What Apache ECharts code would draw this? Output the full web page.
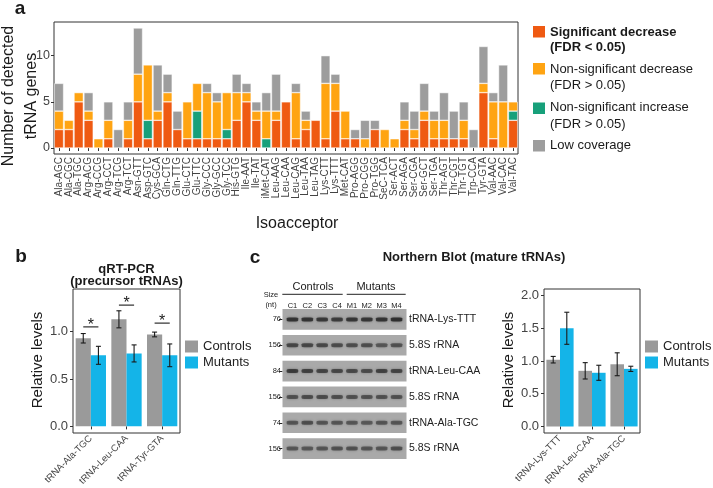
<!DOCTYPE html>
<html><head><meta charset="utf-8">
<script src="https://cdn.jsdelivr.net/npm/echarts@6/dist/echarts.min.js"></script>
<style>html,body{margin:0;padding:0;background:#fff}#c{width:713px;height:488px}</style>
</head><body><div id="c"></div><script>
// ---------- Panel a data ----------
const categoriesA = ['Ala-AGC','Ala-CGC','Ala-TGC','Arg-ACG','Arg-CCG','Arg-CCT','Arg-TCG','Arg-TCT','Asn-GTT','Asp-GTC',
 'Cys-GCA','Gln-CTG','Gln-TTG','Glu-CTC','Glu-TTC','Gly-CCC','Gly-GCC','Gly-TCC','His-GTG','Ile-AAT',
 'Ile-TAT','iMet-CAT','Leu-AAG','Leu-CAA','Leu-CAG','Leu-TAA','Leu-TAG','Lys-CTT','Lys-TTT','Met-CAT',
 'Pro-AGG','Pro-CGG','Pro-TGG','SeC-TCA','Ser-ACT','Ser-AGA','Ser-CGA','Ser-GCT','Ser-TGA','Thr-AGT',
 'Thr-CGT','Thr-TGT','Trp-CCA','Tyr-GTA','Val-AAC','Val-CAC','Val-TAC'];
const sigDecrease    = [2,2,5,3,0,1,0,1,5,1, 3,5,2,1,1,1,1,1,3,5, 3,0,3,5,1,2,3,1,4,1, 1,0,2,0,0,2,1,3,1,1, 1,1,0,6,1,0,3];
const nonSigIncrease = [0,0,0,0,0,0,0,0,0,2, 0,0,0,0,3,0,0,1,0,0, 0,1,0,0,0,0,0,0,0,0, 0,0,0,0,0,0,0,0,0,0, 0,0,0,0,0,0,1];
const nonSigDecrease = [2,1,1,1,1,2,0,2,3,6, 1,1,0,4,3,5,4,4,3,1, 1,3,1,0,5,1,0,6,3,3, 0,1,0,2,1,1,1,1,2,2, 0,2,0,1,4,5,1];
const lowCoverage    = [3,0,0,2,0,2,2,2,5,0, 5,2,2,0,0,1,1,0,2,1, 1,2,4,0,1,1,0,3,1,0, 1,2,1,0,0,2,2,3,1,3, 3,2,2,4,1,4,0];
const ticksA = [0,5,10];

// ---------- Panel b data (qRT-PCR) ----------
const categoriesB = ['tRNA-Ala-TGC','tRNA-Leu-CAA','tRNA-Tyr-GTA'];
const controlsB = [0.93, 1.13, 0.97];
const controlsErrB = [0.05, 0.09, 0.025];
const mutantsB = [0.75, 0.77, 0.75];
const mutantsErrB = [0.095, 0.09, 0.12];
const sigLevelB = [1.05, 1.28, 1.09];
const ticksB = [0, 0.5, 1.0];

// ---------- Panel c data (Northern quantification) ----------
const categoriesC = ['tRNA-Lys-TTT','tRNA-Leu-CAA','tRNA-Ala-TGC'];
const controlsC = [1.02, 0.85, 0.95];
const controlsErrC = [0.05, 0.125, 0.175];
const mutantsC = [1.50, 0.82, 0.88];
const mutantsErrC = [0.245, 0.115, 0.04];
const ticksC = [0, 0.5, 1.0, 1.5, 2.0];

// ---------- Northern blot ----------
const laneLabels = ['C1','C2','C3','C4','M1','M2','M3','M4'];
const blotSizes = ['76','156','84','156','74','156'];
const blotProbes = ['tRNA-Lys-TTT','5.8S rRNA','tRNA-Leu-CAA','5.8S rRNA','tRNA-Ala-TGC','5.8S rRNA'];
const bandIntensity = [
  [0.95,0.95,0.9,0.85,0.92,0.92,0.95,1.0],
  [0.75,0.75,0.72,0.7,0.68,0.68,0.6,0.65],
  [0.85,0.82,0.78,0.75,0.72,0.7,0.8,0.78],
  [0.65,0.7,0.7,0.68,0.65,0.65,0.65,0.65],
  [0.62,0.68,0.62,0.62,0.6,0.58,0.62,0.62],
  [0.6,0.6,0.62,0.65,0.65,0.62,0.62,0.68]
];

const FONT = '"Liberation Sans", Arial, Helvetica, sans-serif';
const RED = '#ef5a12', ORANGE = '#ffa412', GREEN = '#17a07a', GRAY = '#9d9d9d';
const CGRAY = '#9a9a9a', BLUE = '#14b4e8';
const TXT = '#1a1a1a', AX = '#444';

const chart = echarts.init(document.getElementById('c'), null, {renderer:'canvas'});

function dashZero(arr){ return arr.map(v => v === 0 ? '-' : v); }
function stackBar(name, data, color){
  return {name, type:'bar', stack:'a', xAxisIndex:0, yAxisIndex:0, data:dashZero(data),
    barCategoryGap:'6%', itemStyle:{color, borderColor:'#fff', borderWidth:0.5}, silent:true};
}
const GAP = 0.15;
function errSeries(grid, vals, errs, side){
  return {type:'custom', xAxisIndex:grid, yAxisIndex:grid, z:5, silent:true,
    data: vals.map((v,i)=>[i, v-errs[i], v+errs[i]]),
    renderItem(params, api){
      const i = api.value(0);
      const lo = api.coord([i, api.value(1)]);
      const hi = api.coord([i, api.value(2)]);
      const bw = api.size([1,0])[0];
      const x = lo[0] + side*bw*(1-GAP)/4;
      const c = 2.5;
      const st = {stroke:'#1a1a1a', lineWidth:1.1};
      return {type:'group', children:[
        {type:'line', shape:{x1:x,y1:lo[1],x2:x,y2:hi[1]}, style:st},
        {type:'line', shape:{x1:x-c,y1:lo[1],x2:x+c,y2:lo[1]}, style:st},
        {type:'line', shape:{x1:x-c,y1:hi[1],x2:x+c,y2:hi[1]}, style:st}
      ]};
    }};
}
function sigSeries(grid, levels){
  return {type:'custom', xAxisIndex:grid, yAxisIndex:grid, z:5, silent:true,
    data: levels.map((v,i)=>[i, v]),
    renderItem(params, api){
      const p = api.coord([api.value(0), api.value(1)]);
      const bw = api.size([1,0])[0];
      const h = bw*(1-GAP)/4;
      return {type:'group', children:[
        {type:'line', shape:{x1:p[0]-h,y1:p[1],x2:p[0]+h,y2:p[1]}, style:{stroke:'#1a1a1a', lineWidth:1.1}},
        {type:'text', x:p[0], y:p[1]-1.5, style:{text:'*', fill:'#1a1a1a', font:'16px '+FONT, textAlign:'center', textVerticalAlign:'middle'}}
      ]};
    }};
}
function valueAxis(grid, min, max, ticks, fs, margin, fmt){
  return {type:'value', gridIndex:grid, min, max,
    axisLine:{show:false}, splitLine:{show:false},
    axisTick:{show:true, length:3, lineStyle:{color:'#333'}, customValues:ticks},
    axisLabel:{customValues:ticks, fontSize:fs, margin, color:AX, fontFamily:FONT, formatter:fmt}};
}
function catAxis(grid, data, rotate, fs, margin){
  return {type:'category', gridIndex:grid, data,
    axisLine:{show:false}, splitLine:{show:false},
    axisTick:{show:true, alignWithLabel:true, length:3, interval:0, lineStyle:{color:'#333'}},
    axisLabel:{rotate, fontSize:fs, margin, interval:0, color:AX, fontFamily:FONT}};
}

const gridBox = {show:true, borderColor:'#333', borderWidth:1, backgroundColor:'transparent', outerBoundsMode:'none', containLabel:false};

const bands = [];
bandIntensity.forEach((row, r) => row.forEach((v, l) => bands.push([l, r, v])));

function T(text, x, y, size, opts={}){
  return {type:'text', x, y, rotation:opts.rot||0, silent:true,
    style:{text, fill:opts.fill||TXT, font:(opts.bold?'bold ':'')+size+'px '+FONT,
      textAlign:opts.align||'center', textVerticalAlign:'middle', lineHeight:opts.lh}};
}
function R(x, y, w, h, fill){ return {type:'rect', shape:{x,y,width:w,height:h}, style:{fill}, silent:true}; }
function L(x1, y1, x2, y2){ return {type:'line', shape:{x1,y1,x2,y2}, style:{stroke:'#222', lineWidth:1}, silent:true}; }

const legendBase = {data:['Controls','Mutants'], top:340, orient:'vertical', icon:'rect', itemWidth:13, itemHeight:12, itemGap:3,
  padding:0, selectedMode:false, textStyle:{fontSize:13, color:'#222', fontFamily:FONT}};

const option = {
  animation:false,
  textStyle:{fontFamily:FONT},
  grid:[
    Object.assign({left:54, top:22, width:464, height:132}, gridBox),
    Object.assign({left:73, top:289, width:107, height:144}, gridBox),
    Object.assign({left:544, top:289, width:96, height:144}, gridBox),
    {left:285, top:306.5, width:119, height:155, show:false, outerBoundsMode:'none', containLabel:false}
  ],
  xAxis:[
    catAxis(0, categoriesA, 90, 10, 3),
    catAxis(1, categoriesB, 45, 9.5, 4),
    catAxis(2, categoriesC, 45, 9.5, 4),
    {type:'category', gridIndex:3, data:laneLabels, position:'top', offset:-4,
      axisLine:{show:false}, axisTick:{show:false}, splitLine:{show:false},
      axisLabel:{fontSize:7.5, margin:1, color:'#222', fontFamily:FONT, interval:0}}
  ],
  yAxis:[
    valueAxis(0, -0.65, 13.65, ticksA, 12.5, 4, v=>String(v)),
    valueAxis(1, -0.07, 1.45, ticksB, 13, 5, v=>v.toFixed(1)),
    valueAxis(2, -0.1, 2.1, ticksC, 13, 5, v=>v.toFixed(1)),
    {type:'category', gridIndex:3, inverse:true, data:blotSizes.map((s,i)=>String(i)), position:'left', offset:2.5,
      axisLine:{show:false}, splitLine:{show:false},
      axisTick:{show:true, alignWithLabel:true, length:3.5, interval:0, lineStyle:{color:'#222'}},
      axisLabel:{fontSize:7.5, margin:1.5, color:'#222', fontFamily:FONT, interval:0, formatter:v=>blotSizes[+v]}},
    {type:'category', gridIndex:3, inverse:true, data:blotProbes.map((s,i)=>String(i)), position:'right', offset:5,
      axisLine:{show:false}, splitLine:{show:false}, axisTick:{show:false},
      axisLabel:{fontSize:10.5, margin:0, color:'#222', fontFamily:FONT, interval:0, formatter:v=>blotProbes[+v]}}
  ],
  legend:[
    Object.assign({left:185}, legendBase),
    Object.assign({left:645}, legendBase)
  ],
  series:[
    stackBar('Significant decrease', sigDecrease, RED),
    stackBar('Non-significant increase', nonSigIncrease, GREEN),
    stackBar('Non-significant decrease', nonSigDecrease, ORANGE),
    stackBar('Low coverage', lowCoverage, GRAY),
    {name:'Controls', type:'bar', xAxisIndex:1, yAxisIndex:1, data:controlsB, barGap:'0%', barCategoryGap:'15%', itemStyle:{color:CGRAY}, silent:true},
    {name:'Mutants', type:'bar', xAxisIndex:1, yAxisIndex:1, data:mutantsB, barGap:'0%', barCategoryGap:'15%', itemStyle:{color:BLUE}, silent:true},
    {name:'Controls', type:'bar', xAxisIndex:2, yAxisIndex:2, data:controlsC, barGap:'0%', barCategoryGap:'15%', itemStyle:{color:CGRAY}, silent:true},
    {name:'Mutants', type:'bar', xAxisIndex:2, yAxisIndex:2, data:mutantsC, barGap:'0%', barCategoryGap:'15%', itemStyle:{color:BLUE}, silent:true},
    errSeries(1, controlsB, controlsErrB, -1),
    errSeries(1, mutantsB, mutantsErrB, 1),
    errSeries(2, controlsC, controlsErrC, -1),
    errSeries(2, mutantsC, mutantsErrC, 1),
    sigSeries(1, sigLevelB),
    {type:'custom', xAxisIndex:3, yAxisIndex:3, z:1, silent:true,
      data: blotSizes.map((s,i)=>[0, i]),
      renderItem(params, api){
        const cs = params.coordSys;
        const p = api.coord([0, api.value(1)]);
        const h = api.size([0,1])[1]*0.8;
        return {type:'rect', shape:{x:cs.x-2.5, y:p[1]-h/2, width:cs.width+5, height:h},
          style:{fill:'#a9a9a9'}};
      }},
    {type:'scatter', xAxisIndex:3, yAxisIndex:3, z:3, silent:true, data:bands,
      symbol:'roundRect', symbolSize:[11.5,4],
      itemStyle:{color:p=>'rgba(30,30,30,'+p.data[2]+')', shadowBlur:2.5, shadowColor:'rgba(30,30,30,0.6)'}}
  ],
  graphic:[
    T('a', 20, 9, 19, {bold:true}),
    T('Number of detected\ntRNA genes', 20, 96, 16, {rot:Math.PI/2, lh:23}),
    T('Isoacceptor', 297, 224, 16),
    R(533, 26, 12, 11.5, RED),
    T('Significant decrease', 550, 32, 13, {bold:true, align:'left'}),
    T('(FDR < 0.05)', 550, 47.7, 13, {bold:true, align:'left'}),
    R(533, 63, 12, 11.5, ORANGE),
    T('Non-significant decrease', 550, 69, 13, {align:'left'}),
    T('(FDR > 0.05)', 550, 85, 13, {align:'left'}),
    R(533, 102.5, 12, 11.5, GREEN),
    T('Non-significant increase', 550, 107.3, 13, {align:'left'}),
    T('(FDR > 0.05)', 550, 124, 13, {align:'left'}),
    R(533, 140, 12, 11.5, GRAY),
    T('Low coverage', 550, 145.7, 13, {align:'left'}),

    T('b', 21, 257, 19, {bold:true}),
    T('qRT-PCR', 126.5, 269, 13, {bold:true}),
    T('(precursor tRNAs)', 126.5, 281, 13, {bold:true}),
    T('Relative levels', 37.5, 360, 15, {rot:Math.PI/2}),

    T('c', 255, 258, 19, {bold:true}),
    T('Northern Blot (mature tRNAs)', 474, 257, 13, {bold:true}),
    T('Controls', 313, 287.3, 11),
    L(282.3, 294.3, 342.7, 294.3),
    T('Mutants', 376, 287.3, 11),
    L(346.7, 294.3, 405.7, 294.3),
    T('Size', 271, 295, 7.5),
    T('(nt)', 271, 305.3, 7.5),
    T('Relative levels', 509, 360, 15, {rot:Math.PI/2})
  ]
};
chart.setOption(option);
</script></body></html>
